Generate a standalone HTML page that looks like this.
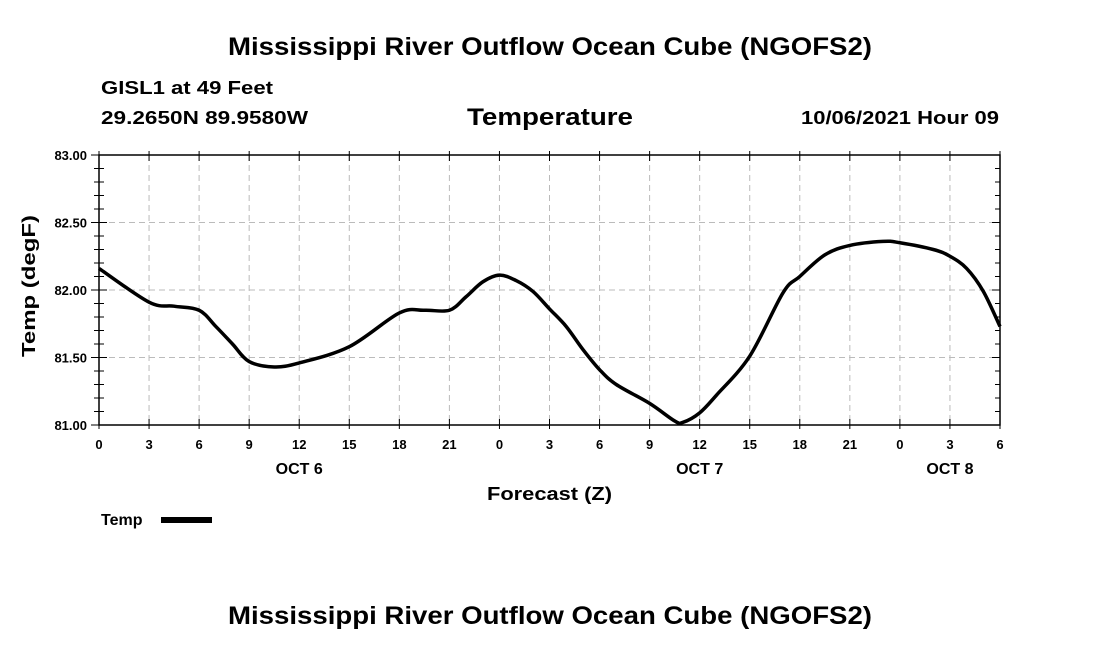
<!DOCTYPE html>
<html><head><meta charset="utf-8"><style>
body{margin:0;background:#fff}
svg text{font-family:"Liberation Sans",sans-serif;font-weight:bold;fill:#000}
</style></head><body>
<svg id="chart" width="1100" height="650" xmlns="http://www.w3.org/2000/svg">
<text x="228" y="55" font-size="25" textLength="644" lengthAdjust="spacingAndGlyphs">Mississippi River Outflow Ocean Cube (NGOFS2)</text>
<text x="101" y="94" font-size="18" textLength="172" lengthAdjust="spacingAndGlyphs">GISL1 at 49 Feet</text>
<text x="101" y="124" font-size="18" textLength="207" lengthAdjust="spacingAndGlyphs">29.2650N  89.9580W</text>
<text x="467" y="125" font-size="24" textLength="166" lengthAdjust="spacingAndGlyphs">Temperature</text>
<text x="801" y="124" font-size="18" textLength="198" lengthAdjust="spacingAndGlyphs">10/06/2021 Hour 09</text>
<g id="grid"></g>
<g id="axes"></g>
<path id="line" fill="none" stroke="#000" stroke-width="3.5" stroke-linejoin="round"/>
<text x="487" y="500" font-size="18" textLength="125" lengthAdjust="spacingAndGlyphs">Forecast (Z)</text>
<text transform="translate(35,357) rotate(-90)" font-size="18" textLength="142" lengthAdjust="spacingAndGlyphs">Temp (degF)</text>
<text x="101" y="525" font-size="16">Temp</text>
<rect x="161" y="517" width="51" height="6" fill="#000"/>
<text x="228" y="624" font-size="25" textLength="644" lengthAdjust="spacingAndGlyphs">Mississippi River Outflow Ocean Cube (NGOFS2)</text>
</svg>
<script>
const hours=[0,3,4.5,6,7,8,9,10.5,12,15,18,19.5,21,22,23,24,25,26,27,28,29,30,31,33,34.5,35,36,37,39,41,42,43.5,45,47,48,50,51,52,53,54];
const temps=[82.16,81.91,81.88,81.85,81.73,81.6,81.47,81.43,81.46,81.58,81.83,81.85,81.85,81.95,82.06,82.11,82.07,81.99,81.86,81.73,81.56,81.41,81.30,81.16,81.03,81.02,81.09,81.22,81.51,81.98,82.10,82.26,82.33,82.36,82.35,82.30,82.25,82.16,81.99,81.73];
const xTickLabels=["0","3","6","9","12","15","18","21","0","3","6","9","12","15","18","21","0","3","6"];
const yTickLabels=["81.00","81.50","82.00","82.50","83.00"];
const dayLabels=[{h:12,t:"OCT 6"},{h:36,t:"OCT 7"},{h:51,t:"OCT 8"}];
const X0=99,X1=1000,Y0=425,Y1=155,HMAX=54,TMIN=81,TMAX=83;
const sx=h=>X0+(X1-X0)*h/HMAX;
const sy=v=>Y0-(Y0-Y1)*(v-TMIN)/(TMAX-TMIN);
const NS="http://www.w3.org/2000/svg";
const grid=document.getElementById('grid'),axes=document.getElementById('axes');
function mk(tag,attrs,parent){const e=document.createElementNS(NS,tag);for(const k in attrs)e.setAttribute(k,attrs[k]);parent.appendChild(e);return e;}
xTickLabels.forEach((t,i)=>{const x=sx(i*3);
 if(i>0&&i<xTickLabels.length-1){const g=mk('line',{x1:x,x2:x,y1:Y1,y2:Y0,stroke:'#bbb','stroke-dasharray':'6,4'},grid);
 
 }
 mk('line',{x1:x,x2:x,y1:Y0+4,y2:Y0-6,stroke:'#000'},axes);
 mk('line',{x1:x,x2:x,y1:Y1-4,y2:Y1+6,stroke:'#000'},axes);
 const tx=mk('text',{x:x,y:449,'font-size':13,'text-anchor':'middle'},axes);tx.textContent=t;
 
 });
yTickLabels.forEach((t,i)=>{const v=parseFloat(t),y=sy(v);
 if(i>0&&i<yTickLabels.length-1){const g=mk('line',{x1:X0,x2:X1,y1:y,y2:y,stroke:'#bbb','stroke-dasharray':'6,4'},grid);
 
 }
 const tx=mk('text',{x:87,y:y+5,'font-size':13,'text-anchor':'end'},axes);tx.textContent=t;
 
 });
for(let v=TMIN;v<=TMAX+1e-9;v+=0.1){const y=sy(v);const major=Math.abs(v*2-Math.round(v*2))<1e-6;const L=major?8:5;
 mk('line',{x1:X0-L,x2:X0,y1:y,y2:y,stroke:'#000'},axes);
 mk('line',{x1:X0,x2:X0+L,y1:y,y2:y,stroke:'#000'},axes);
 mk('line',{x1:X1-L,x2:X1,y1:y,y2:y,stroke:'#000'},axes);}
dayLabels.forEach(d=>{const tx=mk('text',{x:sx(d.h),y:474,'font-size':16,'text-anchor':'middle'},axes);tx.textContent=d.t;
 
 });
const fr=mk('rect',{x:X0,y:Y1,width:X1-X0,height:Y0-Y1,fill:'none',stroke:'#000','stroke-width':1.5},axes);


const pts=hours.map((h,i)=>[sx(h),sy(temps[i])]);
let d='M'+pts[0][0]+','+pts[0][1];
for(let i=0;i<pts.length-1;i++){const p0=pts[Math.max(0,i-1)],p1=pts[i],p2=pts[i+1],p3=pts[Math.min(pts.length-1,i+2)];
 const c1=[p1[0]+(p2[0]-p0[0])/6,p1[1]+(p2[1]-p0[1])/6],c2=[p2[0]-(p3[0]-p1[0])/6,p2[1]-(p3[1]-p1[1])/6];
 d+=` C${c1[0]},${c1[1]} ${c2[0]},${c2[1]} ${p2[0]},${p2[1]}`;}
document.getElementById('line').setAttribute('d',d);
</script>
</body></html>
